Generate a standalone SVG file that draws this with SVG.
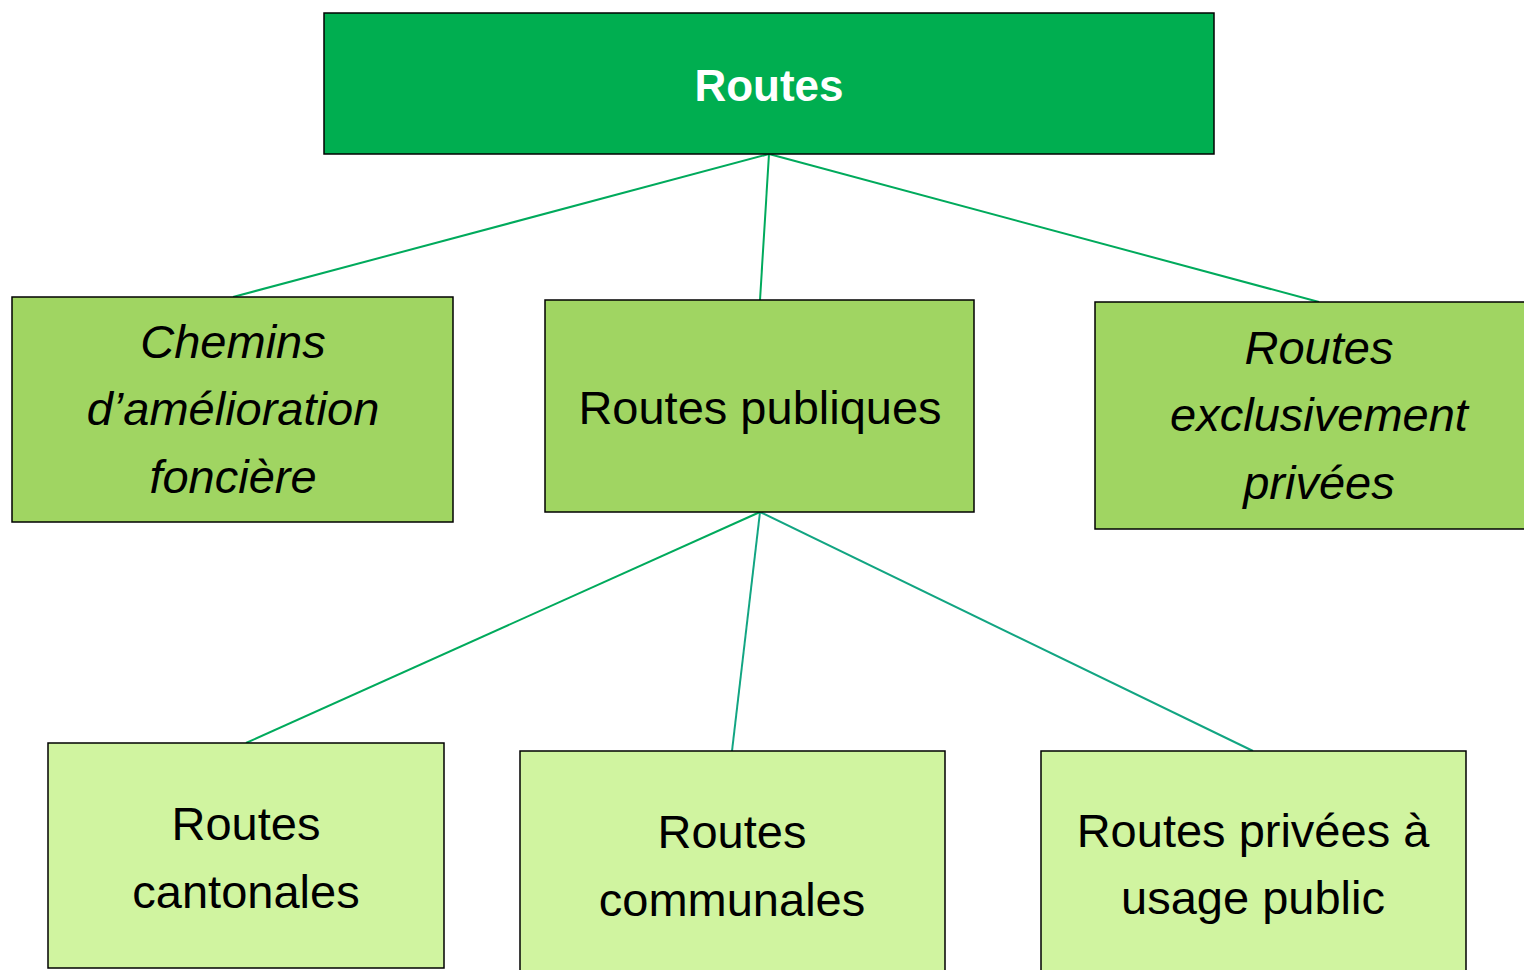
<svg xmlns="http://www.w3.org/2000/svg" width="1524" height="970" viewBox="0 0 1524 970">
<style>
.box{stroke:#000;stroke-width:1.5}
.l0{fill:#00AE50}
.l1{fill:#A0D562}
.l2{fill:#D0F4A0}
text{font-family:"Liberation Sans",Arial,sans-serif;font-size:47px;fill:#000;text-anchor:middle}
.it{font-style:italic}
.title{font-weight:bold;fill:#fff;font-size:44px}
.conn line{stroke:#00AA5C;stroke-width:2}
</style>
<rect width="1524" height="970" fill="#fff"/>
<g id="connectors" class="conn">
<line x1="769" y1="154" x2="233" y2="297"/>
<line x1="769" y1="154" x2="760" y2="300"/>
<line x1="769" y1="154" x2="1319" y2="302"/>
<line x1="760" y1="512" x2="246" y2="743"/>
<line x1="760" y1="512" x2="732" y2="751" style="stroke:#12A582"/>
<line x1="760" y1="512" x2="1253" y2="751" style="stroke:#12A582"/>
</g>
<g id="routes">
<rect class="box l0" x="324" y="13" width="890" height="141"/>
<text class="title" x="769" y="101">Routes</text>
</g>
<g id="chemins">
<rect class="box l1" x="12" y="297" width="441" height="225"/>
<text class="it" x="233" y="358">Chemins</text>
<text class="it" x="233" y="425">d’amélioration</text>
<text class="it" x="233" y="493">foncière</text>
</g>
<g id="publiques">
<rect class="box l1" x="545" y="300" width="429" height="212"/>
<text x="760" y="424">Routes publiques</text>
</g>
<g id="privees">
<rect class="box l1" x="1095" y="302" width="440" height="227"/>
<text class="it" x="1319" y="364">Routes</text>
<text class="it" x="1319" y="431">exclusivement</text>
<text class="it" x="1319" y="499">privées</text>
</g>
<g id="cantonales">
<rect class="box l2" x="48" y="743" width="396" height="225"/>
<text x="246" y="840">Routes</text>
<text x="246" y="908">cantonales</text>
</g>
<g id="communales">
<rect class="box l2" x="520" y="751" width="425" height="230"/>
<text x="732" y="848">Routes</text>
<text x="732" y="916">communales</text>
</g>
<g id="usage-public">
<rect class="box l2" x="1041" y="751" width="425" height="230"/>
<text x="1253" y="847">Routes privées à</text>
<text x="1253" y="914">usage public</text>
</g>
</svg>
